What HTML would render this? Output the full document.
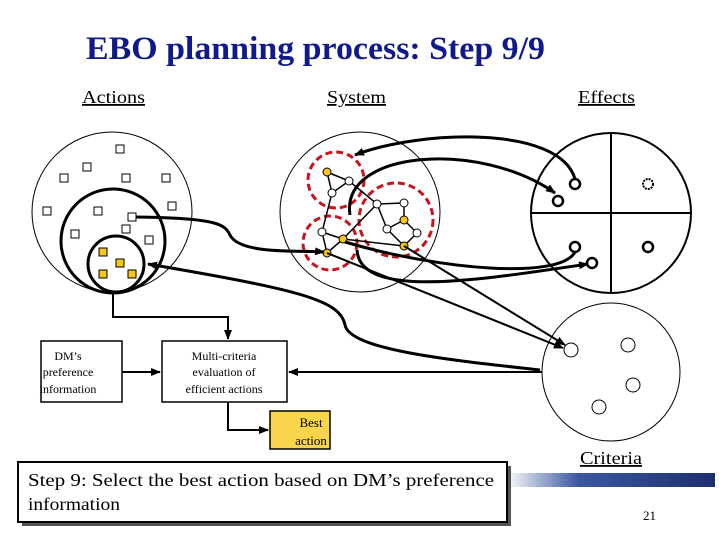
<!DOCTYPE html>
<html><head><meta charset="utf-8"><style>
html,body{margin:0;padding:0;background:#fff;}
svg{display:block;}
text{font-family:"Liberation Serif",serif;}
</style></head><body>
<svg width="720" height="540" viewBox="0 0 720 540" xmlns="http://www.w3.org/2000/svg">
<defs>
<marker id="a" markerWidth="10" markerHeight="8" refX="9" refY="4" orient="auto" markerUnits="userSpaceOnUse"><path d="M0,0 L10,4 L0,8 z" fill="#000"/></marker>
<linearGradient id="bar" x1="0" x2="1" y1="0" y2="0"><stop offset="0" stop-color="#ffffff"/><stop offset="0.35" stop-color="#3a57a0"/><stop offset="1" stop-color="#1c2f6e"/></linearGradient>
</defs>
<text x="86" y="59" font-size="33" font-weight="bold" fill="#101a8c" textLength="459" lengthAdjust="spacingAndGlyphs">EBO planning process: Step 9/9</text>
<text x="82" y="103" font-size="18" text-decoration="underline" textLength="63" lengthAdjust="spacingAndGlyphs">Actions</text>
<text x="327" y="103" font-size="18" text-decoration="underline" textLength="59" lengthAdjust="spacingAndGlyphs">System</text>
<text x="578" y="103" font-size="18" text-decoration="underline" textLength="57" lengthAdjust="spacingAndGlyphs">Effects</text>

<!-- Actions -->
<circle cx="112" cy="212" r="80" fill="none" stroke="#000" stroke-width="1"/>
<circle cx="113" cy="241" r="52" fill="none" stroke="#000" stroke-width="3"/>
<circle cx="116" cy="264" r="28" fill="none" stroke="#000" stroke-width="3"/>
<g fill="#fff" stroke="#000" stroke-width="1">
<rect x="116" y="145" width="8" height="8"/><rect x="83" y="163" width="8" height="8"/><rect x="60" y="174" width="8" height="8"/>
<rect x="122" y="174" width="8" height="8"/><rect x="162" y="174" width="8" height="8"/><rect x="43" y="207" width="8" height="8"/>
<rect x="94" y="207" width="8" height="8"/><rect x="168" y="202" width="8" height="8"/><rect x="128" y="213" width="8" height="8"/>
<rect x="71" y="230" width="8" height="8"/><rect x="122" y="225" width="8" height="8"/><rect x="145" y="236" width="8" height="8"/>
</g>
<g fill="#f5c518" stroke="#000" stroke-width="1">
<rect x="99" y="248" width="8" height="8"/><rect x="116" y="259" width="8" height="8"/><rect x="99" y="270" width="8" height="8"/><rect x="128" y="270" width="8" height="8"/>
</g>

<!-- System -->
<circle cx="360" cy="212" r="80" fill="none" stroke="#000" stroke-width="1"/>
<g fill="none" stroke="#c8141e" stroke-width="3" stroke-dasharray="7,4">
<circle cx="336" cy="180" r="28"/><circle cx="330" cy="243" r="27"/><circle cx="396" cy="220" r="37"/>
</g>
<g stroke="#000" stroke-width="1.5" fill="none">
<line x1="327" y1="172" x2="349" y2="181"/><line x1="349" y1="181" x2="332" y2="193"/><line x1="332" y1="193" x2="327" y2="172"/>
<line x1="349" y1="181" x2="377" y2="204"/><line x1="332" y1="193" x2="322" y2="232"/>
<line x1="377" y1="204" x2="404" y2="203"/><line x1="404" y1="203" x2="404" y2="220"/><line x1="377" y1="204" x2="387" y2="229"/>
<line x1="404" y1="220" x2="417" y2="233"/><line x1="387" y1="229" x2="404" y2="246"/><line x1="417" y1="233" x2="404" y2="246"/>
<line x1="404" y1="220" x2="387" y2="229"/>
<line x1="322" y1="232" x2="343" y2="239"/><line x1="343" y1="239" x2="377" y2="204"/><line x1="343" y1="239" x2="404" y2="246"/>
<line x1="322" y1="232" x2="327" y2="253"/><line x1="343" y1="239" x2="327" y2="253"/>
</g>
<g stroke="#000" stroke-width="1">
<circle cx="327" cy="172" r="4" fill="#f5c518"/><circle cx="349" cy="181" r="4" fill="#fff"/><circle cx="332" cy="193" r="4" fill="#fff"/>
<circle cx="377" cy="204" r="4" fill="#fff"/><circle cx="404" cy="203" r="4" fill="#fff"/><circle cx="404" cy="220" r="4" fill="#f5c518"/>
<circle cx="387" cy="229" r="4" fill="#fff"/><circle cx="417" cy="233" r="4" fill="#fff"/><circle cx="404" cy="246" r="4" fill="#f5c518"/>
<circle cx="322" cy="232" r="4" fill="#fff"/><circle cx="343" cy="239" r="4" fill="#f5c518"/><circle cx="327" cy="253" r="4" fill="#f5c518"/>
</g>

<!-- Effects -->
<circle cx="611" cy="213" r="80" fill="none" stroke="#000" stroke-width="2"/>
<line x1="611" y1="133" x2="611" y2="293" stroke="#000" stroke-width="2"/>
<line x1="531" y1="213" x2="691" y2="213" stroke="#000" stroke-width="2"/>
<g fill="#fff" stroke="#000" stroke-width="2.5">
<circle cx="575" cy="184" r="5"/><circle cx="558" cy="201" r="5"/><circle cx="575" cy="247" r="5"/>
<circle cx="592" cy="263" r="5"/><circle cx="648" cy="247" r="5"/>
</g>
<circle cx="648" cy="184" r="5" fill="#fff" stroke="#000" stroke-width="2" stroke-dasharray="2,1"/>

<!-- Criteria -->
<circle cx="611" cy="372" r="69" fill="none" stroke="#000" stroke-width="1"/>
<g fill="#fff" stroke="#000" stroke-width="1">
<circle cx="571" cy="350" r="7"/><circle cx="628" cy="345" r="7"/><circle cx="633" cy="385" r="7"/><circle cx="599" cy="407" r="7"/>
</g>
<text x="580" y="464" font-size="18" text-decoration="underline" textLength="62" lengthAdjust="spacingAndGlyphs">Criteria</text>

<!-- Curves -->
<g fill="none" stroke="#000" stroke-width="3">
<path d="M575,179 C560,125 420,130 355,155" marker-end="url(#a)"/>
<path d="M350,215 C340,150 480,140 555,193" marker-end="url(#a)"/>
<path d="M575,252 C560,280 440,270 345,242"/>
<path d="M357,250 C360,300 480,280 588,264" marker-end="url(#a)"/>
<path d="M136,217 C220,218 225,225 230,235 C240,255 300,250 324,252" marker-end="url(#a)"/>
<path d="M540,370 C450,360 350,350 345,325 C340,300 300,290 148,264" marker-end="url(#a)"/>
</g>
<g fill="none" stroke="#000" stroke-width="2">
<line x1="327" y1="253" x2="563" y2="348" marker-end="url(#a)"/>
<line x1="404" y1="246" x2="565" y2="345" marker-end="url(#a)"/>
<line x1="542" y1="372" x2="289" y2="372" marker-end="url(#a)"/>
<polyline points="113,292 113,317 228,317 228,339" marker-end="url(#a)"/>
<line x1="122" y1="372" x2="160" y2="372" marker-end="url(#a)"/>
<polyline points="228,402 228,430 268,430" marker-end="url(#a)"/>
</g>

<!-- Boxes -->
<rect x="41" y="341" width="81" height="61" fill="#fff" stroke="#000" stroke-width="1.5"/>
<text font-size="12" text-anchor="middle"><tspan x="68" y="360">DM’s</tspan><tspan x="68" y="376">preference</tspan><tspan x="68" y="393">information</tspan></text>
<rect x="162" y="341" width="125" height="61" fill="#fff" stroke="#000" stroke-width="1.5"/>
<text font-size="12" text-anchor="middle"><tspan x="224" y="360">Multi-criteria</tspan><tspan x="224" y="376">evaluation of</tspan><tspan x="224" y="393">efficient actions</tspan></text>
<rect x="270" y="411" width="60" height="38" fill="#f8d54a" stroke="#000" stroke-width="1.5"/>
<text font-size="13" text-anchor="middle"><tspan x="311" y="427">Best</tspan><tspan x="311" y="445">action</tspan></text>

<rect x="505" y="473" width="210" height="14" fill="url(#bar)"/>
<rect x="22" y="466" width="489" height="60" fill="#555"/>
<rect x="18" y="462" width="489" height="60" fill="#fff" stroke="#000" stroke-width="2"/>
<text font-size="18" x="28" y="486" textLength="466" lengthAdjust="spacingAndGlyphs">Step 9: Select the best action based on DM’s preference</text>
<text font-size="18" x="28" y="510" textLength="92" lengthAdjust="spacingAndGlyphs">information</text>
<text font-size="13" x="643" y="520">21</text>
</svg>
</body></html>
